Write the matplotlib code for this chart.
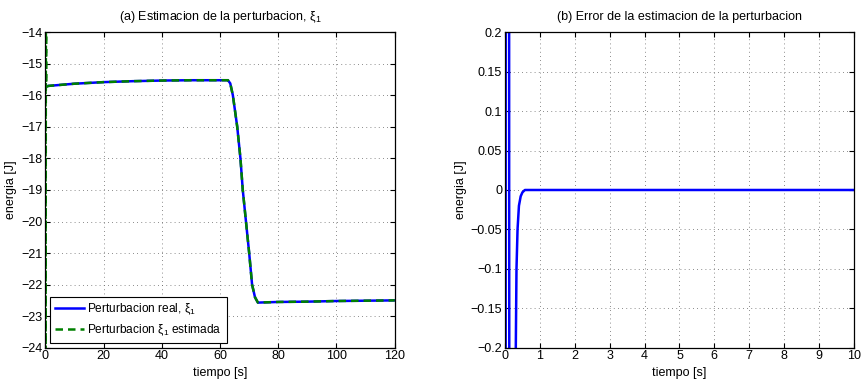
import matplotlib.pyplot as plt
import numpy as np

plt.rcParams['font.family'] = ['Liberation Sans', 'DejaVu Sans']
plt.rcParams['mathtext.fontset'] = 'custom'
plt.rcParams['mathtext.rm'] = 'Liberation Sans'
plt.rcParams['mathtext.it'] = 'Liberation Sans'
plt.rcParams['font.size'] = 9

# perturbacion real
real_t = [0, 1, 10, 20, 30, 40, 50, 62.7, 63.5, 64.4, 65.9, 67.0, 67.8, 68.9,
          70.0, 71.0, 72.0, 73.0, 80, 90, 100, 110, 120]
real_v = [-15.72, -15.70, -15.63, -15.58, -15.55, -15.53, -15.52, -15.52, -15.62,
          -16.0, -17.0, -18.0, -19.0, -20.0, -21.0, -22.0, -22.4, -22.57,
          -22.55, -22.54, -22.52, -22.51, -22.5]

# estimated perturbation: fast transient near t=0, then tracks the real one
trans_t = [0, 0.02, 0.07, 0.12, 0.2, 0.31, 0.36, 0.45, 0.57]
trans_v = [-9.7, -15.7, -24.7, -15.7, -10.7, -15.52, -15.67, -15.71, -15.72]
est_t = trans_t + real_t[1:]
est_v = trans_v + real_v[1:]

# estimation error
err_t = [0, 0.02, 0.07, 0.12, 0.2, 0.31, 0.33, 0.36, 0.40, 0.45, 0.50, 0.57, 1, 10]
err_v = [-6, 0.0, 9, 0.0, -5, -0.2, -0.1, -0.05, -0.02, -0.008, -0.003, 0.0, 0.0, 0.0]

fig = plt.figure(figsize=(8.61, 3.79), dpi=100)
ax1 = fig.add_axes([0.0528, 0.0826, 0.4056, 0.8322])
ax2 = fig.add_axes([0.5865, 0.0826, 0.4053, 0.8322])


def matlab_style(ax):
    ax.grid(True, linestyle=(0, (1, 4)), color='#666666', linewidth=0.6)
    ax.tick_params(direction='in', top=True, right=True, length=3.5, width=0.8, pad=2)
    for s in ax.spines.values():
        s.set_linewidth(0.9)


ax1.plot(real_t, real_v, color='#0000ff', linewidth=1.8, label=r'Perturbacion real, $\mathrm{\xi}_1$')
ax1.plot(est_t, est_v, color='#008000', linewidth=1.8, linestyle=(0, (3, 2)),
         label=r'Perturbacion $\mathrm{\xi}_1$ estimada')
ax1.set_xlim(0, 120)
ax1.set_ylim(-24, -14)
ax1.set_xticks(np.arange(0, 121, 20))
ax1.set_yticks(np.arange(-24, -13, 1))
ax1.set_xlabel('tiempo [s]', labelpad=3)
ax1.set_ylabel('energia [J]', labelpad=3)
ax1.set_title(r'(a) Estimacion de la perturbacion, $\mathrm{\xi}_1$', fontsize=9, pad=9)
matlab_style(ax1)
leg = ax1.legend(loc='lower left', fancybox=False, edgecolor='black', framealpha=1,
                 handlelength=2.4, borderpad=0.4, labelspacing=0.5, borderaxespad=0.4,
                 handletextpad=0.3, fontsize=8.6)
leg.get_frame().set_linewidth(0.8)

ax2.plot(err_t, err_v, color='#0000ff', linewidth=1.8)
ax2.set_xlim(0, 10)
ax2.set_ylim(-0.2, 0.2)
ax2.set_xticks(np.arange(0, 11, 1))
ax2.set_yticks([-0.2, -0.15, -0.1, -0.05, 0, 0.05, 0.1, 0.15, 0.2])
ax2.set_yticklabels(['\u22120.2', '\u22120.15', '\u22120.1', '\u22120.05', '0',
                     '0.05', '0.1', '0.15', '0.2'])
ax2.set_xlabel('tiempo [s]', labelpad=3)
ax2.set_ylabel('energia [J]', labelpad=3)
ax2.set_title('(b) Error de la estimacion de la perturbacion', fontsize=9, pad=9)
matlab_style(ax2)

fig.savefig('out.png', dpi=100)
